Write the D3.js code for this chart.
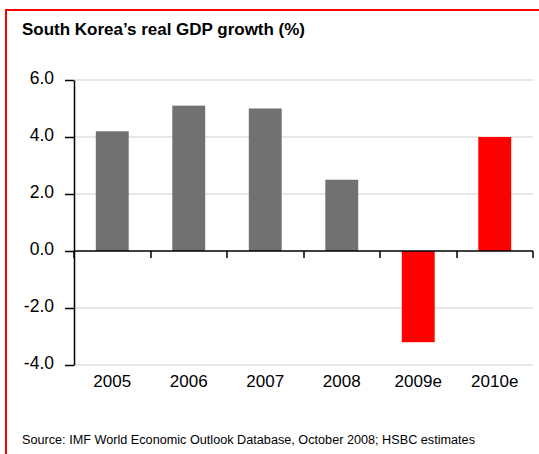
<!DOCTYPE html>
<html>
<head>
<meta charset="utf-8">
<script src="https://cdn.jsdelivr.net/npm/d3@7"></script>
<style>
  body { margin: 0; background: #fff; }
  svg { display: block; font-family: 'Liberation Sans', Arial, sans-serif; }
</style>
</head>
<body>
<svg width="539" height="454"></svg>
<script>
// ===== data =====
var years = ['2005', '2006', '2007', '2008', '2009e', '2010e']
var growth = [4.2, 5.1, 5.0, 2.5, -3.2, 4.0]
var isEstimate = [false, false, false, false, true, true]
var yTicks = [-4, -2, 0, 2, 4, 6]

var svg = d3.select('svg')

// red frame (runs off the right and bottom)
svg.append('path')
  .attr('d', 'M6,460 V10 H545')
  .attr('fill', 'none')
  .attr('stroke', '#ff0000')
  .attr('stroke-width', 2)

svg.append('text')
  .attr('x', 22)
  .attr('y', 35)
  .attr('font-size', '16px')
  .attr('font-weight', 'bold')
  .attr('fill', '#000')
  .attr('textLength', 283)
  .attr('lengthAdjust', 'spacingAndGlyphs')
  .text('South Korea\u2019s real GDP growth (%)')

var x = d3.scaleBand()
  .domain(years)
  .range([74, 533])
  .paddingInner(0.57)
  .paddingOuter(0.285)

var y = d3.scaleLinear()
  .domain([-4, 6])
  .range([365, 80])

// gridlines
svg.append('g')
  .selectAll('line')
  .data(yTicks.filter(function (d) { return d !== 0 }))
  .enter()
  .append('line')
  .attr('x1', 74)
  .attr('x2', 533)
  .attr('y1', function (d) { return y(d) })
  .attr('y2', function (d) { return y(d) })
  .attr('stroke', '#cfcfcf')
  .attr('stroke-width', 1.2)

// bars
svg.append('g')
  .selectAll('rect')
  .data(years)
  .enter()
  .append('rect')
  .attr('x', function (d) { return x(d) })
  .attr('width', x.bandwidth())
  .attr('y', function (d, i) { return y(Math.max(0, growth[i])) })
  .attr('height', function (d, i) { return Math.abs(y(growth[i]) - y(0)) })
  .attr('fill', function (d, i) { return isEstimate[i] ? '#ff0000' : '#717171' })

// y axis
var fmt = d3.format('.1f')
var yAxis = svg.append('g')
  .attr('transform', 'translate(74,0)')
  .call(d3.axisLeft(y).tickValues(yTicks)
    .tickFormat(function (d) { return fmt(d).replace('\u2212', '-') })
    .tickSize(9).tickPadding(11).tickSizeOuter(0))
yAxis.select('.domain').attr('stroke', '#000').attr('stroke-width', 1.5)
yAxis.selectAll('.tick line').attr('stroke', '#000').attr('stroke-width', 1.5)
yAxis.selectAll('.tick text')
  .attr('font-size', '17.5px')
  .attr('dy', '0.22em')
  .attr('fill', '#000')
  .attr('font-family', 'Liberation Sans, Arial, sans-serif')

// zero line with ticks between categories
var bounds = years.map(function (d) { return x(d) - x.step() * x.paddingInner() / 2 })
bounds.push(533)
var zero = svg.append('g')
zero.append('line')
  .attr('x1', 74)
  .attr('x2', 533)
  .attr('y1', y(0))
  .attr('y2', y(0))
  .attr('stroke', '#000')
  .attr('stroke-width', 1.5)
zero.selectAll('.xt')
  .data(bounds)
  .enter()
  .append('line')
  .attr('class', 'xt')
  .attr('x1', function (d) { return Math.round(d) })
  .attr('x2', function (d) { return Math.round(d) })
  .attr('y1', y(0))
  .attr('y2', y(0) + 7)
  .attr('stroke', '#000')
  .attr('stroke-width', 1.5)

// category labels
svg.append('g')
  .selectAll('text')
  .data(years)
  .enter()
  .append('text')
  .attr('x', function (d) { return x(d) + x.bandwidth() / 2 })
  .attr('y', 387)
  .attr('text-anchor', 'middle')
  .attr('font-size', '17px')
  .attr('fill', '#000')
  .text(function (d) { return d })

svg.append('text')
  .attr('x', 22)
  .attr('y', 444)
  .attr('font-size', '12.5px')
  .attr('fill', '#000')
  .attr('textLength', 453)
  .attr('lengthAdjust', 'spacingAndGlyphs')
  .text('Source: IMF World Economic Outlook Database, October 2008; HSBC estimates')
</script>
</body>
</html>
